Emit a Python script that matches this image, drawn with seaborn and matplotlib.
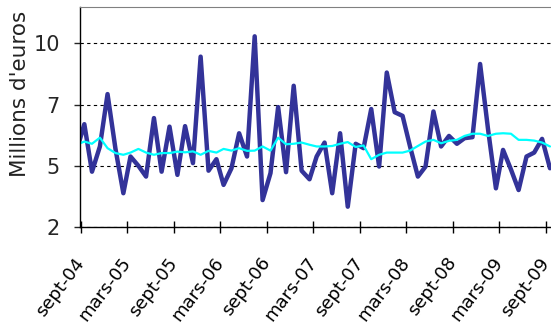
import numpy as np
import pandas as pd
import matplotlib
matplotlib.use("Agg")
import matplotlib.pyplot as plt
from matplotlib import font_manager
import seaborn as sns

# Monthly values, aug-04 .. sept-09 (plotted mid-month)
months = pd.date_range("2004-08-01", periods=62, freq="MS") + pd.Timedelta(days=14)
monthly = [5.6, 6.70, 4.76, 5.79, 7.93, 5.7, 3.88, 5.38, 5.0, 4.56,
           6.95, 4.76, 6.6, 4.63, 6.62, 5.11, 9.46, 4.80, 5.27, 4.22,
           4.90, 6.33, 5.38, 10.29, 3.6, 4.70, 7.40, 4.74, 8.27, 4.80,
           4.45, 5.38, 5.95, 3.88, 6.33, 3.33, 5.9, 5.72, 7.32, 4.97,
           8.81, 7.19, 7.04, 5.8, 4.56, 4.97, 7.22, 5.79, 6.22, 5.9,
           6.13, 6.17, 9.16, 6.5, 4.08, 5.65, 4.85, 4.01, 5.38, 5.54,
           6.1, 4.9]
trend = [5.86, 5.99, 5.9, 6.15, 5.72, 5.52, 5.45, 5.54, 5.69, 5.54,
         5.45, 5.52, 5.52, 5.58, 5.55, 5.59, 5.45, 5.61, 5.54, 5.69,
         5.62, 5.72, 5.61, 5.62, 5.79, 5.62, 6.15, 5.88, 5.9, 5.95,
         5.86, 5.79, 5.79, 5.81, 5.9, 5.97, 5.77, 5.83, 5.27, 5.45,
         5.54, 5.54, 5.54, 5.62, 5.81, 5.99, 6.06, 5.92, 6.02, 6.06,
         6.22, 6.31, 6.31, 6.22, 6.31, 6.33, 6.31, 6.06, 6.06, 6.03,
         5.95, 5.79]

tick_dates = pd.date_range("2004-09-01", "2009-09-01", freq="6MS")
tick_labels = ["sept-04", "mars-05", "sept-05", "mars-06", "sept-06", "mars-07",
               "sept-07", "mars-08", "sept-08", "mars-09", "sept-09"]
y_ticks = [2.5, 5, 7.5, 10]
y_tick_labels = ["2", "5", "7", "10"]

sns.set_style("white")
plt.rcParams["font.family"] = ["DejaVu Sans"]

# narrow face for the tick labels if we have one
narrow = None
for name in ["Liberation Sans Narrow", "DejaVu Sans Condensed"]:
    try:
        font_manager.findfont(font_manager.FontProperties(family=name),
                              fallback_to_default=False)
        narrow = name
        break
    except ValueError:
        pass
tick_family = [narrow, "DejaVu Sans"] if narrow else ["DejaVu Sans"]
xsize, ysize = (17, 18) if narrow else (13, 15)

W, H = 551, 329
fig = plt.figure(figsize=(W / 100, H / 100), dpi=100)
ax = fig.add_axes([80 / W, 1 - 227 / H, 1 - 80 / W, (227 - 6.7) / H])

df = pd.DataFrame({"date": months, "monthly": monthly, "trend": trend})
sns.lineplot(data=df, x="date", y="monthly", color="#333399", lw=3.2, ax=ax)
sns.lineplot(data=df, x="date", y="trend", color="#00ffff", lw=1.6, ax=ax)

ax.set_xlim(pd.Timestamp("2004-08-29"), pd.Timestamp("2009-09-19"))
ax.set_ylim(2.5, 11.5)

ax.set_xticks(tick_dates)
ax.set_xticklabels(tick_labels, rotation=53, ha="right", va="center",
                   rotation_mode="anchor", family=tick_family, fontsize=xsize)
ax.set_yticks(y_ticks)
ax.set_yticklabels(y_tick_labels, family=tick_family, fontsize=ysize)

ax.tick_params(axis="x", direction="inout", length=9, width=1, pad=19,
               colors="black", bottom=True)
ax.tick_params(axis="y", direction="out", length=4.5, width=1, pad=10,
               left=True)

ax.yaxis.grid(True, ls=(0, (3, 3)), color="black", lw=0.8)
ax.xaxis.grid(False)

for side in ["left", "bottom"]:
    ax.spines[side].set_color("black")
    ax.spines[side].set_linewidth(1)
ax.spines["top"].set_color("#808080")
ax.spines["right"].set_visible(False)

ax.set_xlabel("")
ax.set_ylabel("Millions d'euros", fontsize=15.5, color="#222222", va="center")
ax.yaxis.set_label_coords((20 - 80) / (W - 80), (227 - 94) / (227 - 6.7))

fig.savefig("out.png", dpi=100)
